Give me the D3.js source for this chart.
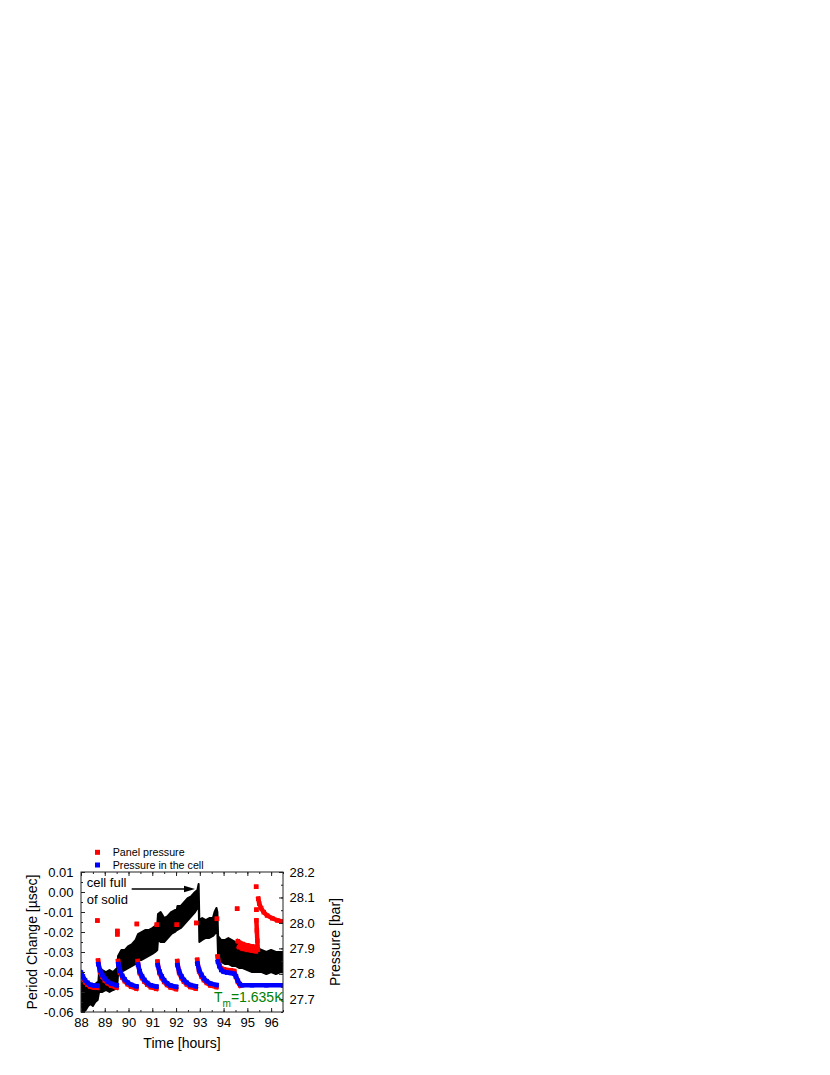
<!DOCTYPE html>
<html>
<head>
    <title>Period change and pressure vs time</title>
    <script src="https://d3js.org/d3.v7.min.js"></script>
    <style>
        body { margin: 0; background: #fff; }
        svg { display: block; }
        text { font-family: "Liberation Sans", Arial, sans-serif; fill: #000; }
    </style>
</head>
<body>
<svg id="chart" width="830" height="1075"></svg>
<script>
    // tick labels
    var timeTicks = [88, 89, 90, 91, 92, 93, 94, 95, 96];
    var periodTicks = [0.01, 0.00, -0.01, -0.02, -0.03, -0.04, -0.05, -0.06];
    var pressureTicks = [27.7, 27.8, 27.9, 28.0, 28.1, 28.2];

    var blackT = [88.00, 88.10, 88.20, 88.30, 88.40, 88.50, 88.60, 88.70, 88.73,
        88.76, 88.90, 89.05, 89.20, 89.35, 89.52,
        89.56, 89.70, 89.85, 90.00, 90.15, 90.30, 90.37,
        90.40, 90.55, 90.70, 90.85, 91.00, 91.12, 91.21,
        91.24, 91.35, 91.50, 91.65, 91.80, 91.95, 92.03,
        92.06, 92.20, 92.35, 92.50, 92.65, 92.80, 92.90, 92.95,
        92.98, 93.10, 93.25, 93.40, 93.55, 93.62, 93.70, 93.74,
        93.77, 93.90, 94.05, 94.20, 94.35, 94.50, 94.65,
        94.80, 95.00, 95.20, 95.40, 95.60, 95.80, 96.00, 96.20, 96.40, 96.50];
    var blackHi = [-0.045, -0.046, -0.045, -0.047, -0.046, -0.047, -0.046, -0.045, -0.045,
        -0.040, -0.039, -0.040, -0.039, -0.040, -0.038,
        -0.032, -0.029, -0.029, -0.027, -0.026, -0.024, -0.022,
        -0.021, -0.020, -0.019, -0.019, -0.018, -0.017, -0.016,
        -0.011, -0.010, -0.013, -0.012, -0.010, -0.009, -0.009,
        -0.007, -0.007, -0.005, -0.003, -0.002, 0.000, 0.001, 0.004,
        -0.014, -0.013, -0.014, -0.013, -0.013, -0.010, -0.008, -0.010,
        -0.022, -0.024, -0.024, -0.023, -0.024, -0.025, -0.026,
        -0.027, -0.028, -0.029, -0.028, -0.029, -0.030, -0.029, -0.030, -0.030, -0.030];
    var blackLo = [-0.060, -0.060, -0.059, -0.057, -0.056, -0.057, -0.055, -0.054, -0.052,
        -0.050, -0.050, -0.049, -0.050, -0.049, -0.048,
        -0.041, -0.040, -0.039, -0.038, -0.037, -0.036, -0.035,
        -0.034, -0.034, -0.033, -0.032, -0.031, -0.030, -0.029,
        -0.024, -0.025, -0.025, -0.023, -0.021, -0.020, -0.019,
        -0.019, -0.018, -0.016, -0.014, -0.012, -0.010, -0.008, -0.004,
        -0.025, -0.024, -0.023, -0.023, -0.022, -0.021, -0.020, -0.021,
        -0.033, -0.035, -0.036, -0.036, -0.037, -0.037, -0.038,
        -0.038, -0.039, -0.040, -0.040, -0.040, -0.041, -0.040, -0.041, -0.040, -0.040];

    // panel pressure (red), null = break between runs
    var redT = [88.00, 88.08, 88.17, 88.27, 88.40, 88.55, 88.68, null,
        88.69, null,
        88.72, 88.80, 88.90, 89.00, 89.12, 89.27, 89.50, null,
        89.53, 89.53, null,
        89.56, 89.64, 89.74, 89.84, 89.96, 90.11, 90.33, null,
        90.35, null,
        90.39, 90.47, 90.57, 90.67, 90.79, 90.94, 91.17, null,
        91.19, null,
        91.22, 91.30, 91.40, 91.50, 91.62, 91.77, 92.00, null,
        92.03, null,
        92.05, 92.13, 92.23, 92.33, 92.45, 92.60, 92.83, null,
        92.85, null,
        92.89, 92.97, 93.07, 93.17, 93.29, 93.44, 93.70, null,
        93.72, null,
        93.75, 93.82, 93.90, 94.00, 94.15, 94.30, 94.45, 94.52, 94.60, 94.70, null,
        94.57, null,
        94.60, 94.80, 95.00, 95.20, 95.36, null,
        94.65, 94.80, 95.00, 95.20, 95.36, null,
        95.37, null,
        95.38, null,
        95.38, 95.40, 95.42, 95.44, null,
        95.46, 95.50, 95.58, 95.69, 95.83, 96.05, 96.26, 96.50];
    var redP = [27.798, 27.782, 27.767, 27.757, 27.749, 27.746, 27.745, null,
        28.009, null,
        27.852, 27.807, 27.788, 27.774, 27.763, 27.753, 27.746, null,
        27.968, 27.955, null,
        27.850, 27.805, 27.785, 27.771, 27.759, 27.749, 27.742, null,
        27.996, null,
        27.850, 27.803, 27.783, 27.769, 27.757, 27.747, 27.741, null,
        27.993, null,
        27.848, 27.803, 27.783, 27.768, 27.756, 27.746, 27.740, null,
        27.993, null,
        27.850, 27.803, 27.783, 27.769, 27.758, 27.748, 27.742, null,
        28.000, null,
        27.855, 27.809, 27.789, 27.775, 27.764, 27.754, 27.748, null,
        28.016, null,
        27.868, 27.835, 27.822, 27.818, 27.815, 27.814, 27.811, 27.788, 27.768, 27.754, null,
        28.056, null,
        27.928, 27.917, 27.912, 27.908, 27.905, null,
        27.905, 27.898, 27.894, 27.891, 27.889, null,
        28.142, null,
        28.052, null,
        28.010, 27.970, 27.930, 27.895, null,
        28.095, 28.076, 28.058, 28.042, 28.029, 28.018, 28.010, 28.005];

    // pressure in the cell (blue)
    var blueT = [88.00, 88.08, 88.17, 88.27, 88.40, 88.55, 88.70, null,
        88.73, 88.80, 88.90, 89.00, 89.12, 89.27, 89.50, null,
        89.57, 89.64, 89.74, 89.84, 89.96, 90.11, 90.33, null,
        90.40, 90.47, 90.57, 90.67, 90.79, 90.94, 91.17, null,
        91.23, 91.30, 91.40, 91.50, 91.62, 91.77, 92.00, null,
        92.06, 92.13, 92.23, 92.33, 92.45, 92.60, 92.83, null,
        92.90, 92.97, 93.07, 93.17, 93.29, 93.44, 93.70, null,
        93.76, 93.82, 93.90, 94.00, 94.15, 94.30, 94.45, 94.52, 94.60, 94.68, 94.78, 95.20, 95.80, 96.50];
    var blueP = [27.805, 27.790, 27.775, 27.765, 27.757, 27.754, 27.753, null,
        27.838, 27.814, 27.795, 27.781, 27.770, 27.761, 27.755, null,
        27.838, 27.812, 27.792, 27.778, 27.766, 27.757, 27.751, null,
        27.836, 27.810, 27.790, 27.776, 27.764, 27.755, 27.750, null,
        27.834, 27.810, 27.790, 27.775, 27.763, 27.754, 27.749, null,
        27.834, 27.810, 27.790, 27.776, 27.765, 27.756, 27.751, null,
        27.840, 27.816, 27.796, 27.782, 27.771, 27.762, 27.756, null,
        27.848, 27.830, 27.815, 27.808, 27.805, 27.803, 27.800, 27.790, 27.773, 27.760, 27.755, 27.755, 27.755, 27.755];

    var L = 81, R = 283, T = 872, B = 1012;
    var svg = d3.select('#chart');

    var x = d3.scaleLinear().domain([88, 96.5]).range([L, R]);
    var yL = d3.scaleLinear().domain([-0.06, 0.01]).range([B, T]);
    var yR = d3.scaleLinear().domain([27.65, 28.2]).range([B, T]);

    // plain hyphen as minus sign
    var locale = d3.formatLocale({decimal: '.', thousands: ',', grouping: [3], currency: ['', ''], minus: '-'});

    svg.append('clipPath').attr('id', 'plot')
        .append('rect').attr('x', L).attr('y', T).attr('width', R - L).attr('height', B - T);
    var plot = svg.append('g').attr('clip-path', 'url(#plot)');

    // black band
    var band = blackT.map(function(t, i) { return {t: t, lo: blackLo[i], hi: blackHi[i]}; });
    plot.append('path')
        .datum(band)
        .attr('d', d3.area()
            .x(function(d) { return x(d.t); })
            .y0(function(d) { return yL(d.lo); })
            .y1(function(d) { return yL(d.hi); }))
        .attr('fill', '#000').attr('stroke', '#000').attr('stroke-width', 2)
        .attr('stroke-linejoin', 'round');

    // pressure series drawn as runs of square markers
    function drawSeries(ts, ps, color) {
        var pts = ts.map(function(t, i) { return t === null ? null : {t: t, p: ps[i]}; });
        plot.append('path')
            .datum(pts)
            .attr('d', d3.line()
                .defined(function(d) { return d !== null; })
                .x(function(d) { return x(d.t); })
                .y(function(d) { return yR(d.p); }))
            .attr('fill', 'none').attr('stroke', color)
            .attr('stroke-width', 4.5).attr('stroke-linecap', 'square');
        plot.selectAll(null)
            .data(pts.filter(function(d) { return d !== null; }))
            .enter().append('rect')
            .attr('x', function(d) { return x(d.t) - 2.25; })
            .attr('y', function(d) { return yR(d.p) - 2.25; })
            .attr('width', 4.5).attr('height', 4.5)
            .attr('fill', color);
    }
    drawSeries(redT, redP, '#ff0000');
    drawSeries(blueT, blueP, '#0000ff');

    // frame
    svg.append('rect').attr('x', L).attr('y', T).attr('width', R - L).attr('height', B - T)
        .attr('fill', 'none').attr('stroke', '#222').attr('stroke-width', 1);

    function styleAxis(g) {
        g.select('.domain').remove();
        g.selectAll('line').attr('stroke', '#222');
        g.selectAll('text').attr('font-size', 13).attr('fill', '#000')
            .attr('font-family', '"Liberation Sans", Arial, sans-serif');
    }
    var halfHours = d3.range(88, 96.51, 0.5);

    svg.append('g').attr('transform', 'translate(0,' + B + ')')
        .call(d3.axisBottom(x).tickValues(timeTicks).tickFormat(d3.format('d')).tickSize(-4).tickPadding(5.5))
        .call(styleAxis);
    svg.append('g').attr('transform', 'translate(0,' + B + ')')
        .call(d3.axisBottom(x).tickValues(halfHours).tickFormat('').tickSize(-2))
        .call(styleAxis);
    svg.append('g').attr('transform', 'translate(0,' + T + ')')
        .call(d3.axisTop(x).tickValues(timeTicks).tickFormat('').tickSize(-4))
        .call(styleAxis);
    svg.append('g').attr('transform', 'translate(0,' + T + ')')
        .call(d3.axisTop(x).tickValues(halfHours).tickFormat('').tickSize(-2))
        .call(styleAxis);

    svg.append('g').attr('transform', 'translate(' + L + ',0)')
        .call(d3.axisLeft(yL).tickValues(periodTicks).tickFormat(locale.format('.2f')).tickSize(-4).tickPadding(7.5))
        .call(styleAxis);
    svg.append('g').attr('transform', 'translate(' + L + ',0)')
        .call(d3.axisLeft(yL).tickValues(d3.range(-0.06, 0.0101, 0.005)).tickFormat('').tickSize(-2))
        .call(styleAxis);

    svg.append('g').attr('transform', 'translate(' + R + ',0)')
        .call(d3.axisRight(yR).tickValues(pressureTicks).tickFormat(d3.format('.1f')).tickSize(-4).tickPadding(6.5))
        .call(styleAxis);
    svg.append('g').attr('transform', 'translate(' + R + ',0)')
        .call(d3.axisRight(yR).tickValues(d3.range(27.65, 28.201, 0.05)).tickFormat('').tickSize(-2))
        .call(styleAxis);

    // axis titles
    svg.append('text').attr('x', (L + R) / 2).attr('y', 1048)
        .attr('text-anchor', 'middle').attr('font-size', 14).text('Time [hours]');
    svg.append('text').attr('transform', 'translate(37,' + (T + B) / 2 + ') rotate(-90)')
        .attr('text-anchor', 'middle').attr('font-size', 14).text('Period Change [\u00b5sec]');
    svg.append('text').attr('transform', 'translate(340,' + (T + B) / 2 + ') rotate(-90)')
        .attr('text-anchor', 'middle').attr('font-size', 14).text('Pressure [bar]');

    // legend
    var legend = [{label: 'Panel pressure', color: '#ff0000', y: 852.3},
                  {label: 'Pressure in the cell', color: '#0000ff', y: 865}];
    legend.forEach(function(d) {
        svg.append('rect').attr('x', 95).attr('y', d.y - 2.5).attr('width', 5).attr('height', 5).attr('fill', d.color);
        svg.append('text').attr('x', 112.7).attr('y', d.y).attr('dy', '0.35em')
            .attr('font-size', 10.7).text(d.label);
    });

    // annotation
    svg.append('text').attr('x', 86.7).attr('y', 887).attr('font-size', 13).text('cell full');
    svg.append('text').attr('x', 86.7).attr('y', 903.5).attr('font-size', 13).text('of solid');
    svg.append('line').attr('x1', 131.7).attr('y1', 889).attr('x2', 188).attr('y2', 889)
        .attr('stroke', '#000').attr('stroke-width', 1.3);
    svg.append('path').attr('d', 'M195,889 L184,885.8 L184,892.2 Z').attr('fill', '#000');

    // melting temperature
    var tm = svg.append('text').attr('x', 283.5).attr('y', 1001.5).attr('text-anchor', 'end')
        .attr('font-size', 14).style('fill', '#008000');
    tm.append('tspan').style('fill', '#008000').text('T');
    tm.append('tspan').style('fill', '#008000').attr('dy', 5.5).attr('font-size', 10).text('m');
    tm.append('tspan').style('fill', '#008000').attr('dy', -5.5).text('=1.635K');
</script>
</body>
</html>
